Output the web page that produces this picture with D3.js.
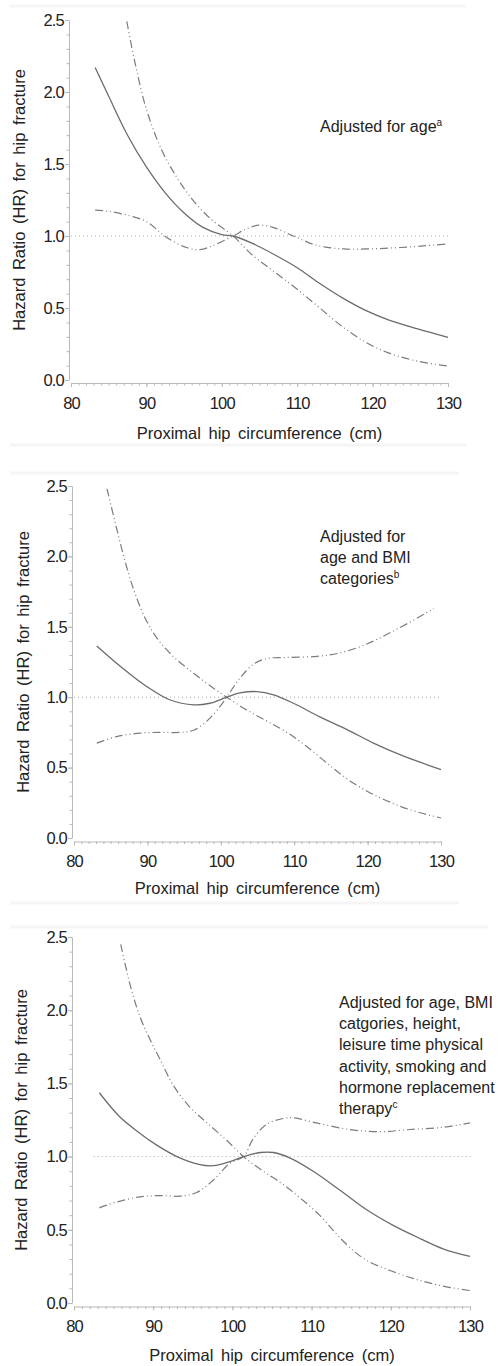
<!DOCTYPE html>
<html>
<head>
<meta charset="utf-8">
<script src="https://cdn.jsdelivr.net/npm/d3@7"></script>
<style>
  body { margin: 0; background: #fff; }
  svg { display: block; font-family: "Liberation Sans", Arial, sans-serif; }
</style>
</head>
<body>
<svg id="chart" width="498" height="1366"></svg>
<script>
const xTicks = [80, 90, 100, 110, 120, 130]
const yTicks = [0, 0.5, 1.0, 1.5, 2.0, 2.5]
const xTitle = 'Proximal hip circumference (cm)'
const yTitle = 'Hazard Ratio (HR) for hip fracture'
const refHR = 1.0

// panel 1, adjusted for age
const hrAge = [[83.2, 2.17], [85, 1.97], [87.5, 1.70], [90, 1.48], [92.5, 1.30], [95, 1.16], [97.5, 1.06],
  [100, 1.01], [101.5, 1.0], [104, 0.95], [107, 0.87], [110, 0.78], [113, 0.67], [116, 0.57], [119, 0.485],
  [122, 0.42], [126, 0.355], [130, 0.296]]
const ciAgeA = [[87.4, 2.49], [88.5, 2.2], [90, 1.88], [92, 1.6], [94, 1.41], [96, 1.26], [98.5, 1.12],
  [101.5, 1.0], [104, 0.87], [107, 0.75], [110, 0.63], [113, 0.5], [116, 0.37], [119, 0.265], [122, 0.19],
  [126, 0.13], [130, 0.097]]
const ciAgeB = [[83.2, 1.18], [85.2, 1.17], [87.8, 1.14], [90, 1.10], [92.7, 0.99], [95.3, 0.92], [97.1, 0.905],
  [98.9, 0.935], [101.5, 1.0], [103.3, 1.05], [105, 1.075], [106.8, 1.06], [109.5, 1.0], [112.6, 0.935],
  [116.1, 0.91], [119.2, 0.91], [123.6, 0.92], [130, 0.945]]

// panel 2, adjusted for age and BMI categories
const hrBmi = [[83.1, 1.364], [86.3, 1.22], [89.9, 1.076], [93.1, 0.98], [96.3, 0.946], [98.5, 0.957],
  [100.8, 1.0], [102.6, 1.03], [104.9, 1.04], [107.2, 1.017], [109.9, 0.957], [113.5, 0.86], [117.2, 0.77],
  [120.8, 0.674], [124.5, 0.59], [130, 0.485]]
const ciBmiA = [[84.5, 2.48], [85.8, 2.2], [87.2, 1.92], [88.5, 1.71], [89.9, 1.54], [91.3, 1.42], [93.5, 1.29],
  [96.3, 1.17], [99, 1.064], [100.8, 1.0], [103.5, 0.91], [106.3, 0.83], [109, 0.75], [111.7, 0.65],
  [114.5, 0.53], [117.2, 0.42], [120, 0.33], [122.6, 0.265], [125.8, 0.2], [130, 0.142]]
const ciBmiB = [[83.1, 0.674], [85.8, 0.72], [89, 0.745], [91.7, 0.75], [94.5, 0.75], [96.3, 0.765], [98.1, 0.83],
  [99.9, 0.934], [100.8, 1.0], [102.6, 1.135], [104.5, 1.236], [106.3, 1.275], [109, 1.282], [113.1, 1.29],
  [116.3, 1.315], [120, 1.38], [123.5, 1.47], [126.7, 1.56], [129, 1.63]]

// panel 3, fully adjusted
const hrFull = [[83.2, 1.436], [85.8, 1.27], [88.3, 1.16], [90.4, 1.08], [93, 1.0], [95.9, 0.945], [97.6, 0.938],
  [99.7, 0.966], [101.4, 1.0], [103.5, 1.028], [105.2, 1.028], [107.3, 0.99], [110.2, 0.9], [113.6, 0.77],
  [117, 0.635], [120.3, 0.53], [123.7, 0.44], [126.6, 0.37], [130, 0.318]]
const ciFullA = [[85.9, 2.45], [87.1, 2.17], [88.3, 1.96], [89.6, 1.80], [90.9, 1.66], [92.5, 1.49], [94.6, 1.34],
  [96.8, 1.23], [99.3, 1.11], [101.4, 1.0], [103.9, 0.9], [106.4, 0.81], [108.5, 0.72], [111, 0.6],
  [113, 0.48], [115, 0.37], [117, 0.29], [120, 0.22], [123.3, 0.16], [126.6, 0.115], [130, 0.085]]
const ciFullB = [[83.2, 0.65], [85.4, 0.69], [88.3, 0.725], [90.9, 0.734], [93.4, 0.73], [95.5, 0.755], [97.6, 0.84],
  [99.7, 0.955], [101.4, 1.0], [102.6, 1.12], [104.3, 1.22], [106.4, 1.26], [107.7, 1.265], [110.6, 1.23],
  [114.8, 1.185], [118.6, 1.17], [122.4, 1.185], [126.6, 1.2], [130, 1.23]]

const noteAge = [['Adjusted for age', 'a']]
const noteBmi = [['Adjusted for'], ['age and BMI'], ['categories', 'b']]
const noteFull = [['Adjusted for age, BMI'], ['catgories, height,'], ['leisure time physical'],
  ['activity, smoking and'], ['hormone replacement'], ['therapy', 'c']]

const panels = [
  { hr: hrAge, ciA: ciAgeA, ciB: ciAgeB, note: noteAge,
    left: 71, right: 448, bottom: 380, top: 20, xAxisY: 383, yAxisX: 69,
    xTitleY: 439, yTitleX: 25, noteX: 320, noteY: 132, ref: [80, 130], sep: [6, 445] },
  { hr: hrBmi, ciA: ciBmiA, ciB: ciBmiB, note: noteBmi,
    left: 74, right: 441, bottom: 838, top: 486, xAxisY: 841.5, yAxisX: 72,
    xTitleY: 894, yTitleX: 29, noteX: 320, noteY: 542, ref: [80, 130], sep: [473, 903] },
  { hr: hrFull, ciA: ciFullA, ciB: ciFullB, note: noteFull,
    left: 74, right: 470, bottom: 1303, top: 937, xAxisY: 1306.5, yAxisX: 72,
    xTitleY: 1361, yTitleX: 27, noteX: 339, noteY: 1008, ref: [82.5, 130.5], sep: [927] }
]

const svg = d3.select('#chart')

function drawPanel(p) {
  const x = d3.scaleLinear().domain([80, 130]).range([p.left, p.right])
  const y = d3.scaleLinear().domain([0, 2.5]).range([p.bottom, p.top])
  const g = svg.append('g')

  // faint frame bands from the scanned figure
  p.sep.forEach(sy => {
    g.append('line').attr('x1', 10).attr('x2', p.right + 18).attr('y1', sy).attr('y2', sy)
      .attr('stroke', '#f5f5f5').attr('stroke-width', 3)
  })

  // minor ticks
  g.append('g').attr('transform', `translate(${p.yAxisX},0)`)
    .call(d3.axisLeft(y).tickValues(d3.range(0, 25.5, 1).map(d => d / 10)).tickSize(2.5).tickFormat(''))
    .call(a => a.select('.domain').remove())
  g.append('g').attr('transform', `translate(0,${p.xAxisY})`)
    .call(d3.axisBottom(x).tickValues(d3.range(80, 131, 1)).tickSize(2.5).tickFormat(''))
    .call(a => a.select('.domain').remove())

  const yAxis = g.append('g').attr('transform', `translate(${p.yAxisX},0)`)
    .call(d3.axisLeft(y).tickValues(yTicks).tickFormat(d3.format('.1f')).tickSize(4).tickSizeOuter(0).tickPadding(1))
  const xAxis = g.append('g').attr('transform', `translate(0,${p.xAxisY})`)
    .call(d3.axisBottom(x).tickValues(xTicks).tickSize(4).tickSizeOuter(0).tickPadding(10))
  ;[yAxis, xAxis].forEach(a => {
    a.selectAll('text').attr('fill', '#222').style('font-size', '16.5px').style('letter-spacing', '-0.8px')
  })
  g.selectAll('.domain, .tick line').attr('stroke', '#b8b8b8')

  g.append('text').attr('x', (p.left + p.right) / 2).attr('y', p.xTitleY)
    .attr('text-anchor', 'middle').attr('fill', '#222').style('font-size', '16.5px').style('word-spacing', '3px')
    .text(xTitle)
  g.append('text').attr('transform', `translate(${p.yTitleX},${(p.top + p.bottom) / 2}) rotate(-90)`)
    .attr('text-anchor', 'middle').attr('fill', '#222').style('font-size', '16.5px').style('word-spacing', '3px')
    .text(yTitle)

  // reference line at HR = 1
  g.append('line').attr('x1', x(p.ref[0])).attr('x2', x(p.ref[1])).attr('y1', y(refHR)).attr('y2', y(refHR))
    .attr('stroke', '#aaa').attr('stroke-width', 1).attr('stroke-dasharray', '1,3')

  const line = d3.line().x(d => x(d[0])).y(d => y(d[1])).curve(d3.curveCatmullRom.alpha(0.5))
  ;[p.ciA, p.ciB].forEach(ci => {
    g.append('path').attr('d', line(ci)).attr('fill', 'none')
      .attr('stroke', '#7c7c7c').attr('stroke-width', 1.2).attr('stroke-dasharray', '8,3,1,3,1,3')
  })
  g.append('path').attr('d', line(p.hr)).attr('fill', 'none')
    .attr('stroke', '#6c6c6c').attr('stroke-width', 1.3)

  const note = g.append('text').attr('fill', '#222').style('font-size', '16px')
  p.note.forEach((ln, i) => {
    note.append('tspan').attr('x', p.noteX).attr('y', p.noteY + i * 21.2).text(ln[0])
    if (ln[1]) {
      note.append('tspan').attr('dy', -6).style('font-size', '10px').text(ln[1])
    }
  })
}

panels.forEach(drawPanel)
</script>
</body>
</html>
